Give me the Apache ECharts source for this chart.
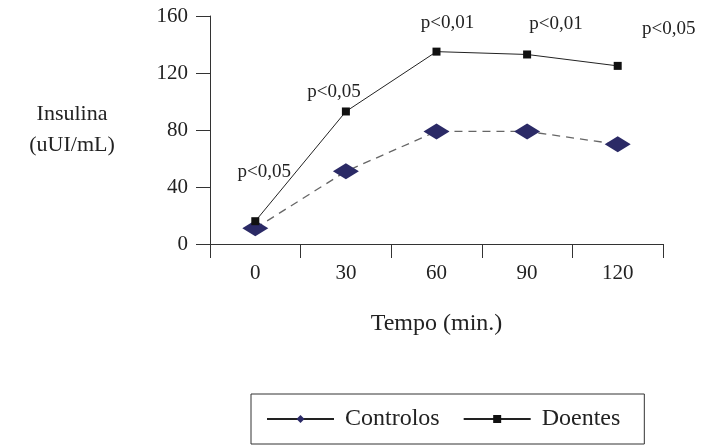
<!DOCTYPE html>
<html><head><meta charset="utf-8">
<script src="https://cdn.jsdelivr.net/npm/echarts@6/dist/echarts.min.js"></script>
<style>html,body{margin:0;padding:0;background:#fff}#c{width:703px;height:448px}</style>
</head><body><div id="c"></div>
<script>
const categories = ['0', '30', '60', '90', '120'];
const controlos = [11, 51, 79, 79, 70];
const doentes = [16, 93, 135, 133, 125];
const pValues = ['p<0,05', 'p<0,05', 'p<0,01', 'p<0,01', 'p<0,05'];
const yTicks = [0, 40, 80, 120, 160];

// label placement (layout only)
const labelOffsets = [[9, -31], [-12, -1], [11, -10], [29, -12], [51, -18]];

const font = 'Liberation Serif';
const chart = echarts.init(document.getElementById('c'));
chart.setOption({
  animation: false,
  textStyle: { fontFamily: font, color: '#222' },
  grid: { left: 210, right: 40, top: 16, bottom: 204, containLabel: false, outerBoundsMode: 'none' },
  xAxis: {
    type: 'category', data: categories, boundaryGap: true,
    name: 'Tempo (min.)', nameLocation: 'middle', nameGap: 68,
    nameTextStyle: { fontFamily: font, fontSize: 24, color: '#222' },
    axisLine: { lineStyle: { color: '#333', width: 1 } },
    axisTick: { show: true, length: 14, alignWithLabel: false, lineStyle: { color: '#333' } },
    axisLabel: { fontFamily: font, fontSize: 21, color: '#222', margin: 19 }
  },
  yAxis: {
    type: 'value', min: yTicks[0], max: yTicks[yTicks.length - 1], interval: 40,
    name: 'Insulina\n(uUI/mL)', nameLocation: 'middle', nameGap: 138, nameRotate: 0,
    nameTextStyle: { fontFamily: font, fontSize: 22, color: '#222', lineHeight: 31, align: 'center' },
    axisLine: { show: true, lineStyle: { color: '#333', width: 1 } },
    axisTick: { show: true, length: 14, lineStyle: { color: '#333' } },
    splitLine: { show: false },
    axisLabel: { fontFamily: font, fontSize: 21, color: '#222', margin: 22 }
  },
  legend: {
    left: 251, top: 394, orient: 'horizontal',
    padding: [13, 24, 13, 15], itemGap: 23, itemWidth: 67, itemHeight: 10,
    borderColor: '#333', borderWidth: 1,
    textStyle: { fontFamily: font, fontSize: 24, color: '#222', padding: [0, 0, 0, 6] },
    data: [
      { name: 'Controlos', lineStyle: { type: 'solid', color: '#222' } },
      { name: 'Doentes' }
    ]
  },
  series: [
    {
      name: 'Controlos', type: 'line', data: controlos,
      symbol: 'diamond', symbolSize: [26, 16],
      itemStyle: { color: '#2b2a66' },
      lineStyle: { color: '#666', width: 1.3, type: [8, 6] },
      z: 2
    },
    {
      name: 'Doentes', type: 'line',
      data: doentes.map((v, i) => ({
        value: v,
        label: { show: true, formatter: pValues[i], position: 'top', offset: labelOffsets[i] }
      })),
      symbol: 'rect', symbolSize: 8,
      itemStyle: { color: '#111' },
      lineStyle: { color: '#222', width: 1 },
      label: { fontFamily: font, fontSize: 19, color: '#222' },
      z: 3
    }
  ]
});
</script></body></html>
